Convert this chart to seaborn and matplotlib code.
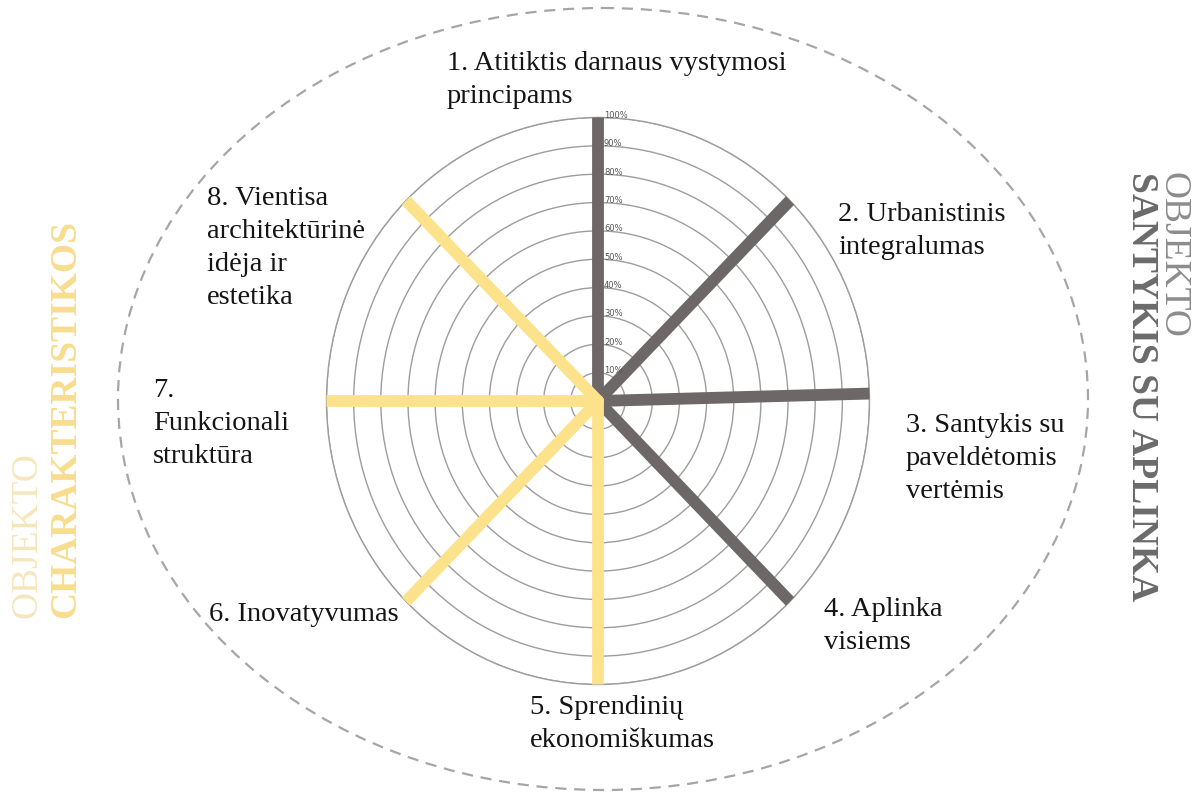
import numpy as np
import pandas as pd
import matplotlib.pyplot as plt
from matplotlib.patches import Ellipse
import seaborn as sns

# criteria around the wheel (clockwise from the top)
criteria = [
    "1. Atitiktis darnaus vystymosi\nprincipams",
    "2. Urbanistinis\nintegralumas",
    "3. Santykis su\npaveldėtomis\nvertėmis",
    "4. Aplinka\nvisiems",
    "5. Sprendinių\nekonomiškumas",
    "6. Inovatyvumas",
    "7.\nFunkcionali\nstruktūra",
    "8. Vientisa\narchitektūrinė\nidėja ir\nestetika",
]
angles_deg = [0, 45, 88.5, 135, 180, 225, 270, 315]
values = [100, 100, 100, 100, 100, 100, 100, 100]
groups = ["santykis", "santykis", "santykis", "santykis",
          "charakteristikos", "charakteristikos", "charakteristikos", "charakteristikos"]
rings = [10, 20, 30, 40, 50, 60, 70, 80, 90, 100]
ring_labels = [f"{r}%" for r in rings]

# label anchors (left x, first baseline y) in pixels
label_pos = [(447, 71), (838, 222), (906, 433), (824, 617),
             (530, 715), (209, 622), (153, 398), (207, 206)]

grey = "#6d6767"
yellow = "#fde28c"
palette = {"santykis": grey, "charakteristikos": yellow}

sns.set_theme(style="white")
plt.rcParams['font.family'] = ['Liberation Serif', 'DejaVu Serif']

W, H = 1204, 794
fig = plt.figure(figsize=(W / 100, H / 100), dpi=100)

# background layer in pixel coordinates
bg = fig.add_axes([0, 0, 1, 1])
bg.set_xlim(0, W)
bg.set_ylim(H, 0)
bg.axis('off')
bg.add_patch(Ellipse((603, 399), 970, 782, fill=False, ls=(0, (5, 3.5)),
                     lw=1.6, ec="#a6a6a6"))

for txt, (x, y) in zip(criteria, label_pos):
    bg.text(x, y - 20, txt, fontsize=20.5, color="#141414", ha='left', va='top',
            linespacing=1.42)

# side titles
bg.text(1173, 172, "OBJEKTO", rotation=-90, fontsize=27, color="#8c8c8c",
        ha='center', va='top')
bg.text(1141, 172, "SANTYKIS SU APLINKA", rotation=-90, fontsize=27,
        fontweight='bold', color="#6b6b6b", ha='center', va='top')
bg.text(27, 618, "OBJEKTO", rotation=90, fontsize=27, color="#f5e7bb",
        ha='center', va='bottom')
bg.text(66, 618, "CHARAKTERISTIKOS", rotation=90, fontsize=27,
        fontweight='bold', color="#f8dd8f", ha='center', va='bottom')

# polar wheel
cx, cy, rx, ry = 598, 401, 271.5, 283.5
ax = fig.add_axes([(cx - rx) / W, (H - cy - ry) / H, 2 * rx / W, 2 * ry / H],
                  projection='polar')
ax.set_aspect('auto')
ax.set_facecolor('none')
ax.set_theta_zero_location('N')
ax.set_theta_direction(-1)

rows = []
for name, a, v, g in zip(criteria, angles_deg, values, groups):
    rows.append({"criterion": name, "theta": np.deg2rad(a), "r": 0, "group": g})
    rows.append({"criterion": name, "theta": np.deg2rad(a), "r": v, "group": g})
df = pd.DataFrame(rows)

sns.lineplot(data=df, x="theta", y="r", hue="group", units="criterion",
             estimator=None, sort=False, palette=palette, linewidth=8.5,
             legend=False, ax=ax, zorder=5)

ax.set_ylim(0, 100)
ax.set_yticks(rings)
ax.set_yticklabels([])
ax.set_xticks([])
ax.set_xlabel("")
ax.set_ylabel("")
ax.yaxis.grid(True, color="#9d9d9d", lw=1.0)
ax.spines['polar'].set_color("#9d9d9d")
ax.spines['polar'].set_linewidth(1.0)

for r, lab in zip(rings, ring_labels):
    ax.annotate(lab, xy=(0, r), xytext=(6, 2), textcoords='offset pixels',
                fontsize=6, color="#555555", ha='left', va='center',
                family='DejaVu Sans', zorder=6)

fig.savefig("out.png", dpi=100)
